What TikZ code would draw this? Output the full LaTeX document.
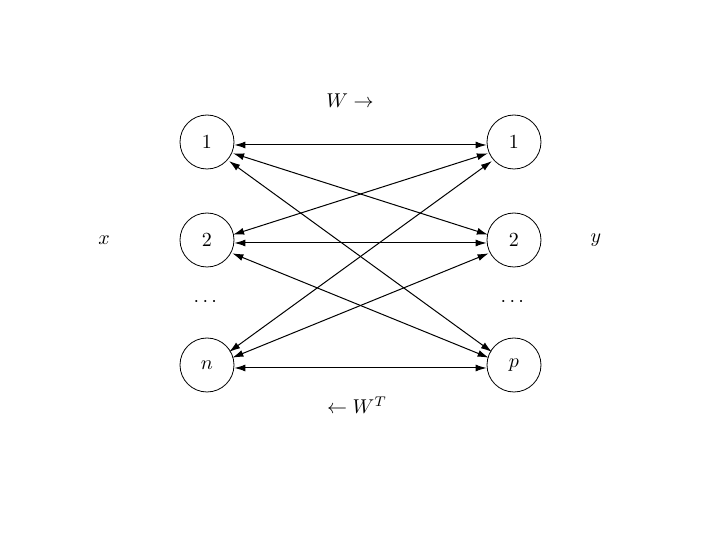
\documentclass[tikz,border=0pt]{standalone}
\usepackage{amsmath,amssymb}
\usepackage{tikz}
\usetikzlibrary{positioning,arrows.meta}

\begin{document}
\begin{tikzpicture}[x=0.5pt,y=-0.5pt,
  unit/.style={circle,draw,minimum size=27pt,inner sep=0pt},
  link/.style={{Latex[length=5.5pt,width=3.5pt]}-{Latex[length=5.5pt,width=3.5pt]},line width=0.5pt,
    transform canvas={yshift=-1.5pt}}]
\useasboundingbox (0,0) rectangle (720,540);
% input layer
\node[unit] (l1) at (207,142) {$1$};
\node[unit] (l2) at (207,240) {$2$};
\node (ld) at (207,302) {$\cdots$};
\node[unit] (ln) at (207,365) {$n$};
% output layer
\node[unit] (r1) at (514,142) {$1$};
\node[unit] (r2) at (514,240) {$2$};
\node (rd) at (514,302) {$\cdots$};
\node[unit] (rp) at (514,365) {$p$};

\node (x) at (104,240) {$x$};
\node (y) at (596,240) {$y$};
\node (w) at (350,101) {$W\rightarrow$};
\node (wt) at (357,405) {$\leftarrow W^T$};

\foreach \a in {l1,l2,ln}
  \foreach \b in {r1,r2,rp}
    \draw[link] (\a) -- (\b);
\end{tikzpicture}
\end{document}
